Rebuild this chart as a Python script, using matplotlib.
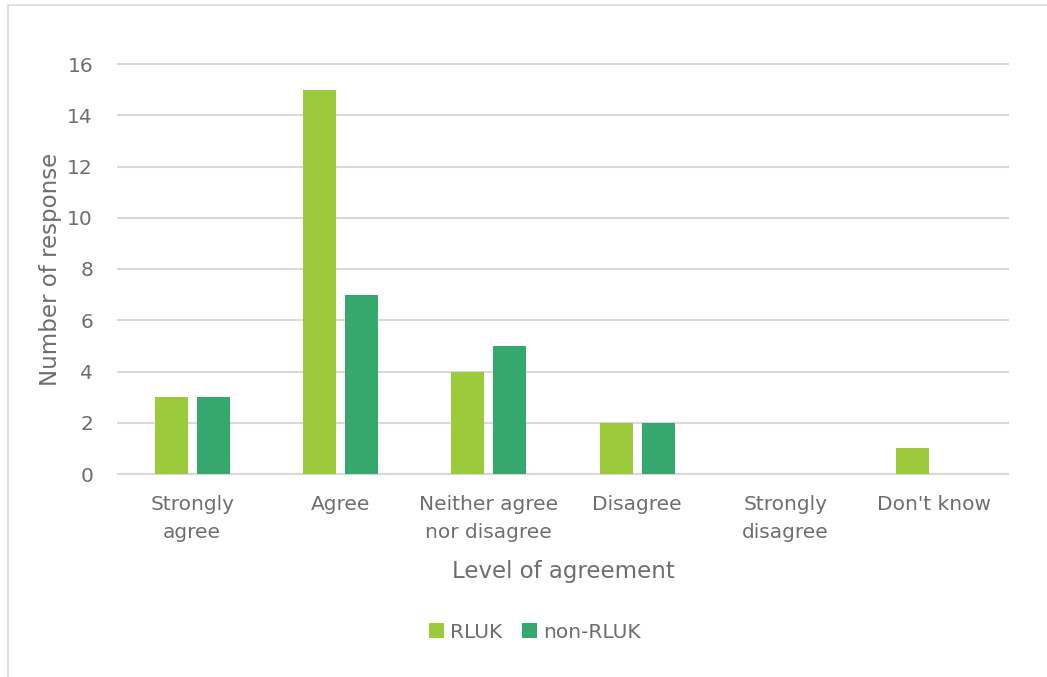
import matplotlib
matplotlib.use("Agg")
import matplotlib.pyplot as plt
from matplotlib.patches import Rectangle
import numpy as np

categories = ["Strongly\nagree", "Agree", "Neither agree\nnor disagree", "Disagree", "Strongly\ndisagree", "Don't know"]
rluk = [3, 15, 4, 2, 0, 1]
non_rluk = [3, 7, 5, 2, 0, 0]
series_names = ["RLUK", "non-RLUK"]
yticks = [0, 2, 4, 6, 8, 10, 12, 14, 16]

c1 = "#9BCB3B"
c2 = "#36A86E"
txt = "#6E6E6E"
grid = "#D9D9D9"

plt.rcParams['font.family'] = ['DejaVu Sans']

fig = plt.figure(figsize=(10.47, 6.77), dpi=100)
fig.patches.append(Rectangle((8/1047, -0.1), 1.2, 1 - 5/677 + 0.1, transform=fig.transFigure,
                             fill=False, edgecolor=grid, linewidth=1.2))
ax = fig.add_axes([118/1047, 1 - 474/677, (1008-118)/1047, (474-64)/677])

x = np.arange(len(categories))
w = 0.222
off = 0.142
ax.bar(x - off, rluk, w, color=c1, label=series_names[0], zorder=3)
ax.bar(x + off, non_rluk, w, color=c2, label=series_names[1], zorder=3)

ax.set_xlim(-0.5, len(categories) - 0.5)
ax.set_ylim(0, 16)
ax.set_yticks(yticks)
ax.yaxis.grid(True, color=grid, linewidth=1.5, zorder=0)
for gl in ax.get_ygridlines():
    gl.set_clip_on(False)
ax.set_axisbelow(True)
for s in ["top", "right", "left"]:
    ax.spines[s].set_visible(False)
ax.spines["bottom"].set_color(grid)
ax.spines["bottom"].set_linewidth(1.5)
ax.tick_params(axis='both', length=0, labelsize=14.5, colors=txt)
ax.tick_params(axis='y', pad=18)
ax.tick_params(axis='x', pad=15)
ax.set_xticks(x)
ax.set_xticklabels(categories, linespacing=1.6)

ax.set_ylabel("Number of response", fontsize=16.5, color=txt, labelpad=4)
ax.set_xlabel("Level of agreement", fontsize=16.5, color=txt, labelpad=13)

leg = fig.legend(loc="center", bbox_to_anchor=(535/1047, 1 - 632/677), ncol=2, frameon=False,
                 fontsize=14.5, handlelength=0.75, handleheight=0.75, handletextpad=0.3,
                 columnspacing=1.0)
for t in leg.get_texts():
    t.set_color(txt)

fig.savefig("out.png", dpi=100)
